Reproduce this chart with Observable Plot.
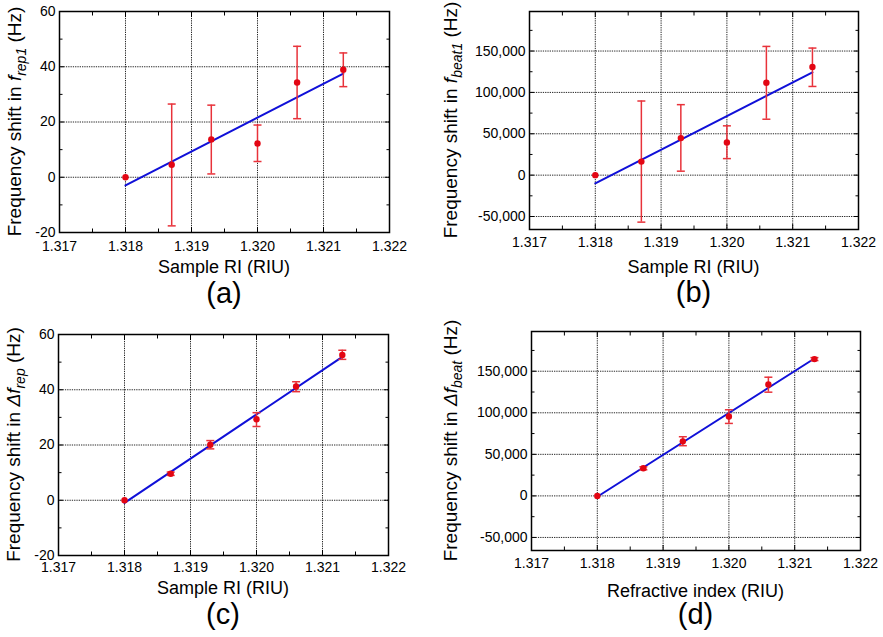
<!DOCTYPE html>
<html><head><meta charset="utf-8">
<script src="https://cdn.jsdelivr.net/npm/d3@7"></script>
<script src="https://cdn.jsdelivr.net/npm/@observablehq/plot@0.6"></script>
<style>
body{margin:0;background:#fff;}
#wrap{position:relative;width:883px;height:637px;font-family:"Liberation Sans",Arial,sans-serif;overflow:hidden;}
.panel{position:absolute;}
</style></head><body><div id="wrap"></div>
<script>
// ---------- data ----------
const ri = [1.3180, 1.3187, 1.3193, 1.3200, 1.3206, 1.3213];
const xTicks = [1.317, 1.318, 1.319, 1.320, 1.321, 1.322];
const xMinor = [1.3175, 1.3185, 1.3195, 1.3205, 1.3215];

// (a) frequency shift in f_rep1 (Hz)
const fRep1    = [0, 4.5, 13.7, 12.2, 34.3, 38.9];
const fRep1Lo  = [null, -17.6, 1.2, 5.7, 21.2, 32.8];
const fRep1Hi  = [null, 26.5, 26.1, 18.9, 47.4, 45.0];
// (b) frequency shift in f_beat1 (Hz)
const fBeat1   = [0, 16400, 44800, 39600, 111600, 130800];
const fBeat1Lo = [null, -56800, 4800, 20000, 67600, 107200];
const fBeat1Hi = [null, 89600, 85200, 59600, 155600, 153600];
// (c) frequency shift in Δf_rep (Hz)
const dfRep    = [0, 9.6, 20.1, 29.3, 41.2, 52.6];
const dfRepLo  = [null, 9.0, 18.6, 26.7, 39.3, 51.0];
const dfRepHi  = [null, 10.2, 21.6, 31.7, 42.9, 54.3];
// (d) frequency shift in Δf_beat (Hz)
const dfBeat   = [0, 33200, 65600, 95600, 134000, 164600];
const dfBeatLo = [null, 31400, 60400, 87200, 124800, 162800];
const dfBeatHi = [null, 35000, 71200, 103600, 142800, 166400];

const yTicksHz = [-20, 0, 20, 40, 60];
const yMinorHz = [-10, 10, 30, 50];
const yTicksBig = [-50000, 0, 50000, 100000, 150000];
const yMinorBig = [-25000, 25000, 75000, 125000, 175000];

// ---------- style ----------
const RED = "#e30613", ERR = "#e8323a", BLUE = "#1010d8";
const FONT = '"Liberation Sans", Arial, sans-serif';
const fmtLocale = d3.formatLocale({decimal: ".", thousands: ",", grouping: [3], currency: ["", ""], minus: "-"});
const fmtComma = fmtLocale.format(",");
const fmtInt = fmtLocale.format("d");
const capSymbol = {draw(ctx, size) { const w = Math.sqrt(size / Math.PI); ctx.moveTo(-w, 0); ctx.lineTo(w, 0); }};

function panel(cfg) {
  const rows = ri.map((x, i) => ({x, y: cfg.y[i], lo: cfg.lo[i], hi: cfg.hi[i]}));
  const errRows = rows.filter(d => d.lo != null);
  const m = cfg.margin;
  const gridStyle = {stroke: "#000", strokeOpacity: 0.85, strokeDasharray: "1.3,1", strokeWidth: 1};
  const svg = Plot.plot({
    width: cfg.width, height: cfg.height,
    marginLeft: m[3], marginRight: m[1], marginTop: m[0], marginBottom: m[2],
    style: {fontFamily: FONT, fontSize: "14px", color: "#000", background: "transparent"},
    x: {domain: [1.317, 1.322]},
    y: {domain: cfg.yDomain},
    marks: [
      Plot.gridX(xTicks, gridStyle),
      Plot.gridY(cfg.yTicks, gridStyle),
      // inward ticks on all four sides
      Plot.axisX(xTicks, {anchor: "bottom", tickSize: -5, fill: "none", label: null}),
      Plot.axisX(xMinor, {anchor: "bottom", tickSize: -3.5, fill: "none", label: null}),
      Plot.axisX(xTicks, {anchor: "top", tickSize: -5, fill: "none", label: null}),
      Plot.axisX(xMinor, {anchor: "top", tickSize: -3.5, fill: "none", label: null}),
      Plot.axisY(cfg.yTicks, {anchor: "left", tickSize: -5, fill: "none", label: null}),
      Plot.axisY(cfg.yMinor, {anchor: "left", tickSize: -3.5, fill: "none", label: null}),
      Plot.axisY(cfg.yTicks, {anchor: "right", tickSize: -5, fill: "none", label: null}),
      Plot.axisY(cfg.yMinor, {anchor: "right", tickSize: -3.5, fill: "none", label: null}),
      // tick labels
      Plot.axisX(xTicks, {anchor: "bottom", tickSize: 0, tickPadding: cfg.xPad, tickFormat: d3.format(".3f"), label: null, fontSize: 14}),
      Plot.axisY(cfg.yTicks, {anchor: "left", tickSize: 0, tickPadding: 4, tickFormat: cfg.fmt, label: null, fontSize: 14}),
      Plot.frame({stroke: "#000", strokeWidth: 1.5}),
      // fit line
      Plot.linearRegressionY(rows, {x: "x", y: "y", stroke: BLUE, strokeWidth: 2, ci: 0}),
      // error bars
      Plot.ruleX(errRows, {x: "x", y1: "lo", y2: "hi", stroke: ERR, strokeWidth: 1.5}),
      Plot.dot(errRows, {x: "x", y: "lo", symbol: capSymbol, r: 4, stroke: ERR, strokeWidth: 1.5, fill: "none"}),
      Plot.dot(errRows, {x: "x", y: "hi", symbol: capSymbol, r: 4, stroke: ERR, strokeWidth: 1.5, fill: "none"}),
      // points
      Plot.dot(rows, {x: "x", y: "y", r: 3.2, fill: RED, stroke: "none"})
    ]
  });
  svg.style.overflow = "visible";
  const s = d3.select(svg);
  const fx = (m[3] + cfg.width - m[1]) / 2;
  const fy = (m[0] + cfg.height - m[2]) / 2;
  // y label with italic / subscript parts
  const t = s.append("text")
    .attr("transform", `translate(${cfg.yLabelX},${fy}) rotate(-90)`)
    .attr("text-anchor", "middle")
    .style("font-family", FONT).style("font-size", "19px").attr("fill", "#000");
  t.append("tspan").text("Frequency shift in ");
  t.append("tspan").style("font-style", "italic").text(cfg.sym);
  t.append("tspan").style("font-style", "italic").style("font-size", "14px").attr("dy", 5).text(cfg.sub);
  t.append("tspan").attr("dy", -5).text(" (Hz)");
  // x label
  s.append("text").attr("x", fx).attr("y", cfg.xLabelY).attr("text-anchor", "middle")
    .style("font-family", FONT).style("font-size", "18px").attr("fill", "#000").text(cfg.xLabel);
  // panel letter
  s.append("text").attr("x", fx).attr("y", cfg.letterY).attr("text-anchor", "middle")
    .style("font-family", FONT).style("font-size", "29px").attr("fill", "#000").text(cfg.letter);
  const div = document.createElement("div");
  div.className = "panel";
  div.style.left = cfg.left + "px"; div.style.top = cfg.top + "px";
  div.appendChild(svg);
  document.getElementById("wrap").appendChild(div);
}

panel({left: 0, top: 0, width: 440, height: 310, margin: [11, 51, 78, 59],
  y: fRep1, lo: fRep1Lo, hi: fRep1Hi, yDomain: [-20, 60], yTicks: yTicksHz, yMinor: yMinorHz, fmt: fmtInt,
  xPad: 9, yLabelX: 21, xLabelY: 273, letterY: 303, sym: "f", sub: "rep1", xLabel: "Sample RI (RIU)", letter: "(a)"});
panel({left: 440, top: 0, width: 443, height: 310, margin: [11, 25, 81, 89],
  y: fBeat1, lo: fBeat1Lo, hi: fBeat1Hi, yDomain: [-65700, 197800], yTicks: yTicksBig, yMinor: yMinorBig, fmt: fmtComma,
  xPad: 8, yLabelX: 17, xLabelY: 273, letterY: 302, sym: "f", sub: "beat1", xLabel: "Sample RI (RIU)", letter: "(b)"});
panel({left: 0, top: 310, width: 440, height: 327, margin: [24, 52, 82, 58],
  y: dfRep, lo: dfRepLo, hi: dfRepHi, yDomain: [-20, 60], yTicks: yTicksHz, yMinor: yMinorHz, fmt: fmtInt,
  xPad: 7, yLabelX: 20, xLabelY: 284, letterY: 314, sym: "\u0394f", sub: "rep", xLabel: "Sample RI (RIU)", letter: "(c)"});
panel({left: 440, top: 310, width: 443, height: 327, margin: [21, 23, 87, 91],
  y: dfBeat, lo: dfBeatLo, hi: dfBeatHi, yDomain: [-65700, 197800], yTicks: yTicksBig, yMinor: yMinorBig, fmt: fmtComma,
  xPad: 8, yLabelX: 17, xLabelY: 287, letterY: 314, sym: "\u0394f", sub: "beat", xLabel: "Refractive index (RIU)", letter: "(d)"});
</script></body></html>
